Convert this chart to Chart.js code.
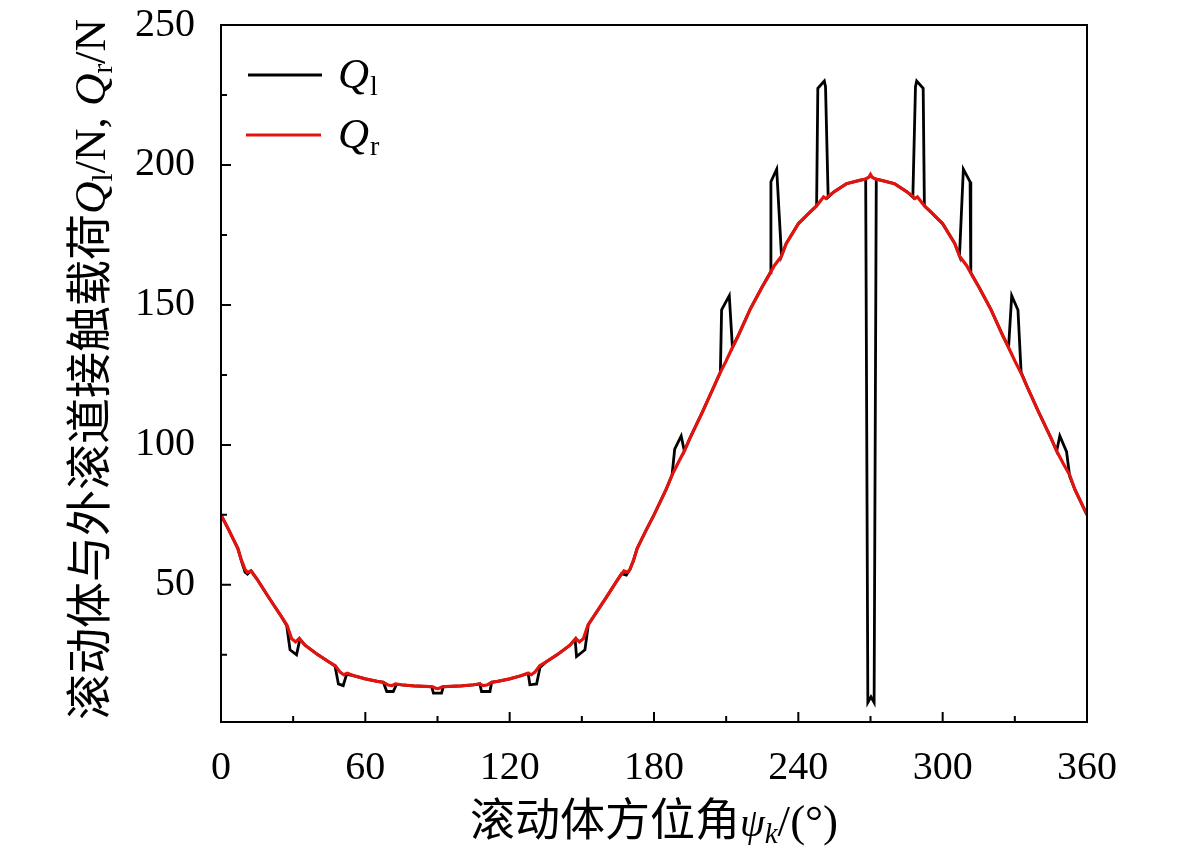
<!DOCTYPE html>
<html>
<head>
<meta charset="utf-8">
<script src="https://cdn.jsdelivr.net/npm/chart.js@4.4.0/dist/chart.umd.min.js"></script>
<style>
  html, body { margin: 0; padding: 0; background: #fff; }
  #wrap { width: 1181px; height: 859px; }
</style>
</head>
<body>
<div id="wrap"><canvas id="chart" width="1181" height="859"></canvas></div>
<script>
// angle of rolling element (deg) and load on outer race (N)
var angleQr = [0, 3, 5, 7, 8.5, 10, 11, 12.5, 15, 20, 25, 27.5, 29.3, 31, 32.5, 35, 40, 45, 47.5, 49.5, 51, 52.5, 55, 60, 65, 67.5, 69.5, 71, 72.5, 75, 80, 85, 88, 89.5, 90, 90.5, 92,
  95, 100, 105, 107.5, 109, 110.5, 112.5, 115, 120, 125, 127.5, 129, 130.5, 132.5, 135, 140, 145, 147.5, 149, 150.7, 152.5, 155, 160, 165, 167.5, 169, 170, 171.5, 173, 175, 177, 180,
  185, 187.5, 190, 192.6, 195, 200, 205, 207.5, 210, 212.6, 215, 220, 225, 227.4, 230, 232.9, 235, 240, 245, 247.5, 249.5, 250.5, 251.5, 253, 255, 260, 265, 268, 269.3, 270, 270.7, 272,
  275, 280, 285, 287, 288.5, 289.5, 290.5, 292.5, 295, 300, 305, 307.1, 310, 312.6, 315, 320, 325, 327.4, 330, 332.5, 335, 340, 345, 347.4, 350, 352.8, 355, 360];
var valQr = [75, 70, 66.5, 63, 58.8, 55.5, 54.5, 55, 52, 45.3, 38.8, 35.5, 30.8, 29.6, 30.8, 28.4, 25.2, 22.4, 21.1, 18.8, 17.9, 18.4, 17.6, 16.4, 15.5, 15.2, 14.2, 14, 14.6, 14.3, 13.9, 13.7, 13.6, 13, 12.9, 13, 13.6,
  13.7, 13.9, 14.3, 14.6, 14, 14.2, 15.2, 15.5, 16.4, 17.6, 18.4, 17.9, 18.8, 21.1, 22.4, 25.2, 28.4, 30.8, 29.6, 30.8, 35.5, 38.8, 45.3, 52, 55, 54.5, 55.5, 58.8, 63, 66.5, 70, 75,
  84, 89.2, 93.5, 97.8, 102.5, 111.5, 121, 125.8, 130, 134.8, 139, 148.5, 156.5, 160, 164, 167.3, 172, 179, 183.3, 185.3, 187.5, 188.6, 188, 189.2, 190.5, 193.3, 194.4, 195, 195.6, 196.6, 195.6, 195,
  194.4, 193.3, 190.5, 189.2, 188, 188.6, 187.5, 185.3, 183.3, 179, 172, 167.3, 164, 160, 156.5, 148.5, 139, 134.8, 130, 125.8, 121, 111.5, 102.5, 97.8, 93.5, 89.3, 84, 75];

var angleQl = [0, 3, 5, 7, 8.5, 10, 11, 12.5, 15, 20, 25, 27.3, 28.7, 31.4, 32.8, 35, 40, 45, 47.4, 48.8, 50.8, 52.2, 55, 60, 65, 67.5, 68.9, 71.6, 73, 75, 80, 85, 87.6, 88.3, 91.7, 92.4,
  95, 100, 105, 107.6, 108.3, 111.8, 112.5, 115, 120, 125, 127.7, 128.4, 131.2, 132.6, 135, 140, 145, 147.2, 147.8, 151.3, 152.7, 155, 160, 165, 166.5, 168.5, 170, 171.5, 173, 175, 177, 180,
  185, 187.5, 188.6, 191.3, 192.6, 195, 200, 205, 207.6, 208.1, 211.3, 212.6, 215, 220, 225, 228.3, 228.6, 231, 233, 235, 240, 245, 247.6, 248.1, 250.8, 251.3, 252.4, 255, 260, 265, 268, 268.9, 270.2, 271.5, 272.4,
  275, 280, 285, 287.6, 288.7, 289.2, 291.9, 292.4, 295, 300, 305, 307, 308.6, 311.4, 311.7, 315, 320, 325, 327.4, 328.7, 331.3, 332.6, 335, 340, 345, 347.4, 348.7, 351.5, 352.8, 355, 360];
var valQl = [75, 70, 66.5, 63, 58.5, 54.5, 53.8, 55, 52, 45.3, 38.8, 35.5, 26.8, 25, 30.6, 28.4, 25.2, 22.4, 21, 14.6, 14, 18, 17.6, 16.4, 15.5, 15.2, 11.9, 11.9, 14.5, 14.3, 13.9, 13.7, 13.6, 11.3, 11.3, 13.6,
  13.7, 13.9, 14.3, 14.6, 11.9, 11.9, 15.2, 15.5, 16.4, 17.6, 18.4, 14.3, 14.6, 20.5, 22.4, 25.2, 28.4, 30.6, 24.4, 26.8, 35.8, 38.8, 45.3, 52, 54, 53.5, 55.5, 58.8, 63, 66.5, 70, 75,
  84, 89.2, 98.5, 103.2, 97.8, 102.5, 111.5, 121, 126, 148.2, 153.3, 134.8, 139, 148.5, 156.5, 161.5, 194, 198.5, 167.5, 172, 179, 183.3, 185.4, 227.4, 230, 228, 188.5, 190.5, 193.3, 194.4, 195, 8, 10, 8, 195,
  194.4, 193.3, 190.5, 188.5, 228, 230, 227.4, 185.4, 183.3, 179, 172, 167.5, 198.5, 194, 161.5, 156.5, 148.5, 139, 134.8, 153.3, 148.2, 126, 121, 111.5, 102.5, 97.8, 103.2, 97.6, 88.7, 84, 75];

var xMajor = [0, 60, 120, 180, 240, 300, 360];
var xMinor = [30, 90, 150, 210, 270, 330];
var yMajor = [50, 100, 150, 200, 250];
var yMinor = [25, 75, 125, 175, 225];

var serif = '"Liberation Serif", "Times New Roman", serif';
var cjk = '"Noto Sans CJK SC", sans-serif';
var redCol = '#e3130f';

function pts(xs, ys) {
  var out = [];
  for (var i = 0; i < xs.length; i++) out.push({ x: xs[i], y: ys[i] });
  return out;
}

// draw a row of text pieces, centred on (0,0) of the current transform
function drawRuns(ctx, runs) {
  var total = 0;
  runs.forEach(function (r) { ctx.font = r.font; total += ctx.measureText(r.t).width; });
  var x = -total / 2;
  runs.forEach(function (r) {
    ctx.font = r.font;
    ctx.fillText(r.t, x, r.dy || 0);
    x += ctx.measureText(r.t).width;
  });
}

var framePlugin = {
  id: 'frame',
  afterDraw: function (c) {
    var ctx = c.ctx, a = c.chartArea;
    var xs = c.scales.x, ys = c.scales.y;
    ctx.save();
    ctx.strokeStyle = '#000';
    ctx.lineWidth = 2;
    ctx.strokeRect(a.left, a.top, a.right - a.left, a.bottom - a.top);
    ctx.beginPath();
    xMajor.forEach(function (v) { var p = xs.getPixelForValue(v); ctx.moveTo(p, a.bottom); ctx.lineTo(p, a.bottom - 10); });
    xMinor.forEach(function (v) { var p = xs.getPixelForValue(v); ctx.moveTo(p, a.bottom); ctx.lineTo(p, a.bottom - 6); });
    yMajor.forEach(function (v) { var p = ys.getPixelForValue(v); ctx.moveTo(a.left, p); ctx.lineTo(a.left + 10, p); });
    yMinor.forEach(function (v) { var p = ys.getPixelForValue(v); ctx.moveTo(a.left, p); ctx.lineTo(a.left + 6, p); });
    ctx.stroke();

    // legend
    ctx.lineWidth = 2.8;
    ctx.strokeStyle = '#000';
    ctx.beginPath(); ctx.moveTo(248, 75); ctx.lineTo(322, 75); ctx.stroke();
    ctx.strokeStyle = redCol;
    ctx.beginPath(); ctx.moveTo(246, 135); ctx.lineTo(321, 135); ctx.stroke();
    ctx.fillStyle = '#000';
    ctx.textBaseline = 'alphabetic';
    ctx.textAlign = 'left';
    ctx.font = 'italic 43px ' + serif;
    ctx.fillText('Q', 338, 88);
    ctx.fillText('Q', 338, 148);
    ctx.font = '28px ' + serif;
    ctx.fillText('l', 370, 95);
    ctx.fillText('r', 370, 155);

    // x axis title
    ctx.save();
    ctx.translate((a.left + a.right) / 2, 836);
    drawRuns(ctx, [
      { t: '滚动体方位角', font: '45px ' + cjk },
      { t: 'ψ', font: 'italic 40px ' + serif },
      { t: 'k', font: 'italic 29px ' + serif, dy: 7 },
      { t: '/(°)', font: '45px ' + serif }
    ]);
    ctx.restore();

    // y axis title
    ctx.save();
    ctx.translate(105, (a.top + a.bottom) / 2 - 4);
    ctx.rotate(-Math.PI / 2);
    drawRuns(ctx, [
      { t: '滚动体与外滚道接触载荷', font: '46px ' + cjk },
      { t: 'Q', font: 'italic 45px ' + serif },
      { t: 'l', font: '29px ' + serif, dy: 7 },
      { t: '/N, ', font: '45px ' + serif },
      { t: 'Q', font: 'italic 45px ' + serif },
      { t: 'r', font: '29px ' + serif, dy: 7 },
      { t: '/N', font: '45px ' + serif }
    ]);
    ctx.restore();
    ctx.restore();
  }
};

var ctx = document.getElementById('chart').getContext('2d');
var chart = new Chart(ctx, {
  type: 'line',
  data: {
    datasets: [{
      label: 'Ql',
      data: pts(angleQl, valQl),
      borderColor: '#000',
      borderWidth: 2.8,
      pointRadius: 0,
      tension: 0,
      order: 2
    }, {
      label: 'Qr',
      data: pts(angleQr, valQr),
      borderColor: redCol,
      borderWidth: 3.2,
      pointRadius: 0,
      tension: 0,
      order: 1
    }]
  },
  options: {
    responsive: false,
    animation: false,
    layout: { padding: { top: 25, right: 94, left: 0, bottom: 0 } },
    plugins: { legend: { display: false }, tooltip: { enabled: false } },
    scales: {
      x: {
        type: 'linear',
        min: 0,
        max: 360,
        afterBuildTicks: function (s) { s.ticks = xMajor.map(function (v) { return { value: v }; }); },
        afterFit: function (s) { s.height = 137; s.paddingLeft = 0; s.paddingRight = 0; },
        grid: { display: false },
        border: { display: false },
        ticks: { color: '#000', padding: 14, maxRotation: 0, font: { family: serif, size: 40 } }
      },
      y: {
        min: 1,
        max: 250,
        afterBuildTicks: function (s) { s.ticks = yMajor.map(function (v) { return { value: v }; }); },
        afterFit: function (s) { s.width = 221; s.paddingTop = 0; s.paddingBottom = 0; },
        grid: { display: false },
        border: { display: false },
        ticks: { color: '#000', padding: 18, font: { family: serif, size: 40 } }
      }
    }
  },
  plugins: [framePlugin]
});
</script>
</body>
</html>
